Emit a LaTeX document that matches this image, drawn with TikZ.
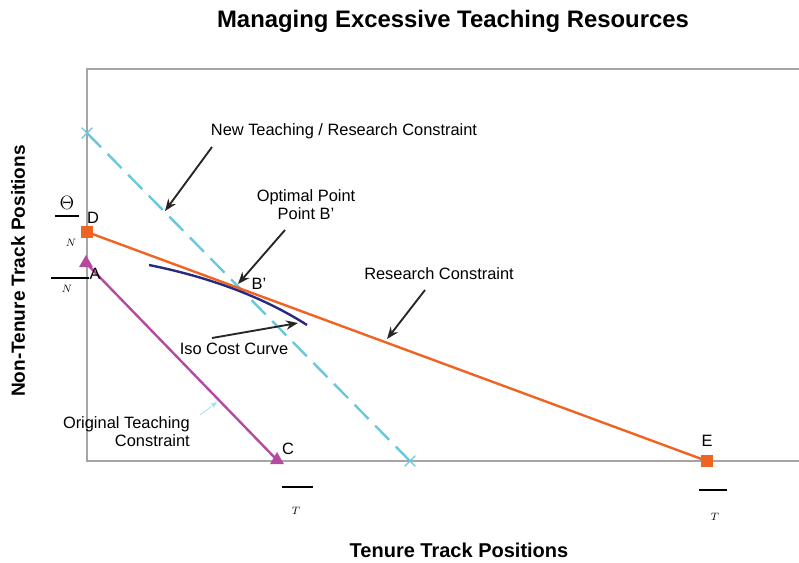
\documentclass[tikz,border=0pt]{standalone}
\usepackage{fontspec}
\setmainfont{Liberation Sans}
\usetikzlibrary{positioning, arrows.meta, shapes.geometric, shapes.misc}

\definecolor{framegray}{RGB}{165,165,165}
\definecolor{resorange}{RGB}{240,100,35}
\definecolor{teachpink}{RGB}{180,75,160}
\definecolor{newcyan}{RGB}{105,200,220}
\definecolor{isonavy}{RGB}{40,42,125}

\begin{document}
\begin{tikzpicture}[x=0.75pt, y=-0.75pt,
    every node/.style={font=\fontsize{12.3}{13.5}\selectfont, inner sep=0pt},
    axislbl/.style={font=\bfseries\fontsize{15}{17}\selectfont},
    callout/.style={-{Stealth[length=9pt,width=7pt]}, line width=1.4pt, black!85},
    sqmark/.style={fill=resorange, minimum size=8.5pt},
    trimark/.style={regular polygon, regular polygon sides=3, fill=teachpink, minimum size=12pt},
    xmark/.style={cross out, draw=newcyan, line width=1pt, minimum size=7pt},
    fracbar/.style={line width=0.8pt}]
    \useasboundingbox (0,0) rectangle (799,562);

    % frame of the chart
    \draw[framegray, line width=1.5pt] (799,69) -- (87,69) -- (87,461) -- (799,461);

    % end points of the three constraints
    \coordinate (D) at (87,232);
    \coordinate (E) at (707,461);
    \coordinate (A) at (86,263);
    \coordinate (C) at (277,460);
    \coordinate (N0) at (87,133);
    \coordinate (N1) at (410,461);

    % constraints
    \draw[newcyan, line width=1.8pt, dash pattern=on 15pt off 7pt] (N0) -- (N1);
    \draw[resorange, line width=1.8pt] (D) -- (E);
    \draw[teachpink, line width=1.8pt] (A) -- (C);

    % iso cost curve
    \draw[isonavy, line width=1.8pt] (149,265) .. controls (199,275) and (257,293) .. (307,325);

    % markers
    \node[sqmark] (Dmark) at (D) {};
    \node[sqmark] (Emark) at (E) {};
    \node[trimark] (Amark) at (A) {};
    \node[trimark] (Cmark) at (C) {};
    \node[xmark] (N0mark) at (N0) {};
    \node[xmark] (N1mark) at (N1) {};

    % point letters
    \node (Dlbl) at (93,218) {D};
    \node (Albl) at (95,274) {A};
    \node (Clbl) at (288,449) {C};
    \node (Elbl) at (707,441) {E};
    \node (Blbl) at (259,284) {B'};

    % fractions on the axes
    \node (theta) at (67,203) {\fontsize{15}{15}\selectfont$\Theta$};
    \draw[fracbar] (55,216) -- (79,216);
    \node (thetaN) at (71,243) {\fontsize{8.5}{9}\selectfont$N$};
    \draw[fracbar] (51,278) -- (89,278);
    \node (aN) at (67,289) {\fontsize{8.5}{9}\selectfont$N$};
    \draw[fracbar] (282,487) -- (313,487);
    \node (cT) at (296,511) {\fontsize{8.5}{9}\selectfont$T$};
    \draw[fracbar] (699,490) -- (727,490);
    \node (eT) at (715,517) {\fontsize{8.5}{9}\selectfont$T$};

    % callout texts
    \node (newlbl) at (344,131) {New Teaching / Research Constraint};
    \node[align=center] (optlbl) at (306,205) {Optimal Point\\Point B'};
    \node (reslbl) at (439,274) {Research Constraint};
    \node (isolbl) at (234,349) {Iso Cost Curve};
    \node[align=right, anchor=north east] (orglbl) at (190,416) {Original Teaching\\Constraint};

    % callout arrows
    \coordinate (newtip) at (165,211);
    \coordinate (opttip) at (238,284);
    \coordinate (restip) at (387,339);
    \coordinate (isotip) at (298,323);
    \coordinate (orgtip) at (217,402);
    \draw[callout] (212,147) -- (newtip);
    \draw[callout] (285,230) -- (opttip);
    \draw[callout] (425,290) -- (restip);
    \draw[callout] (212,338) -- (isotip);
    \draw[-{Stealth[length=5pt,width=4pt]}, newcyan!60, line width=0.6pt] (200,415) -- (orgtip);

    % titles
    \node[font=\bfseries\fontsize{17.9}{20}\selectfont] (title) at (453,21) {Managing Excessive Teaching Resources};
    \node[axislbl] (xlbl) at (459,550) {Tenure Track Positions};
    \node[axislbl, font=\bfseries\fontsize{14.3}{16}\selectfont, rotate=90] (ylbl) at (18,271) {Non-Tenure Track Positions};
\end{tikzpicture}
\end{document}
